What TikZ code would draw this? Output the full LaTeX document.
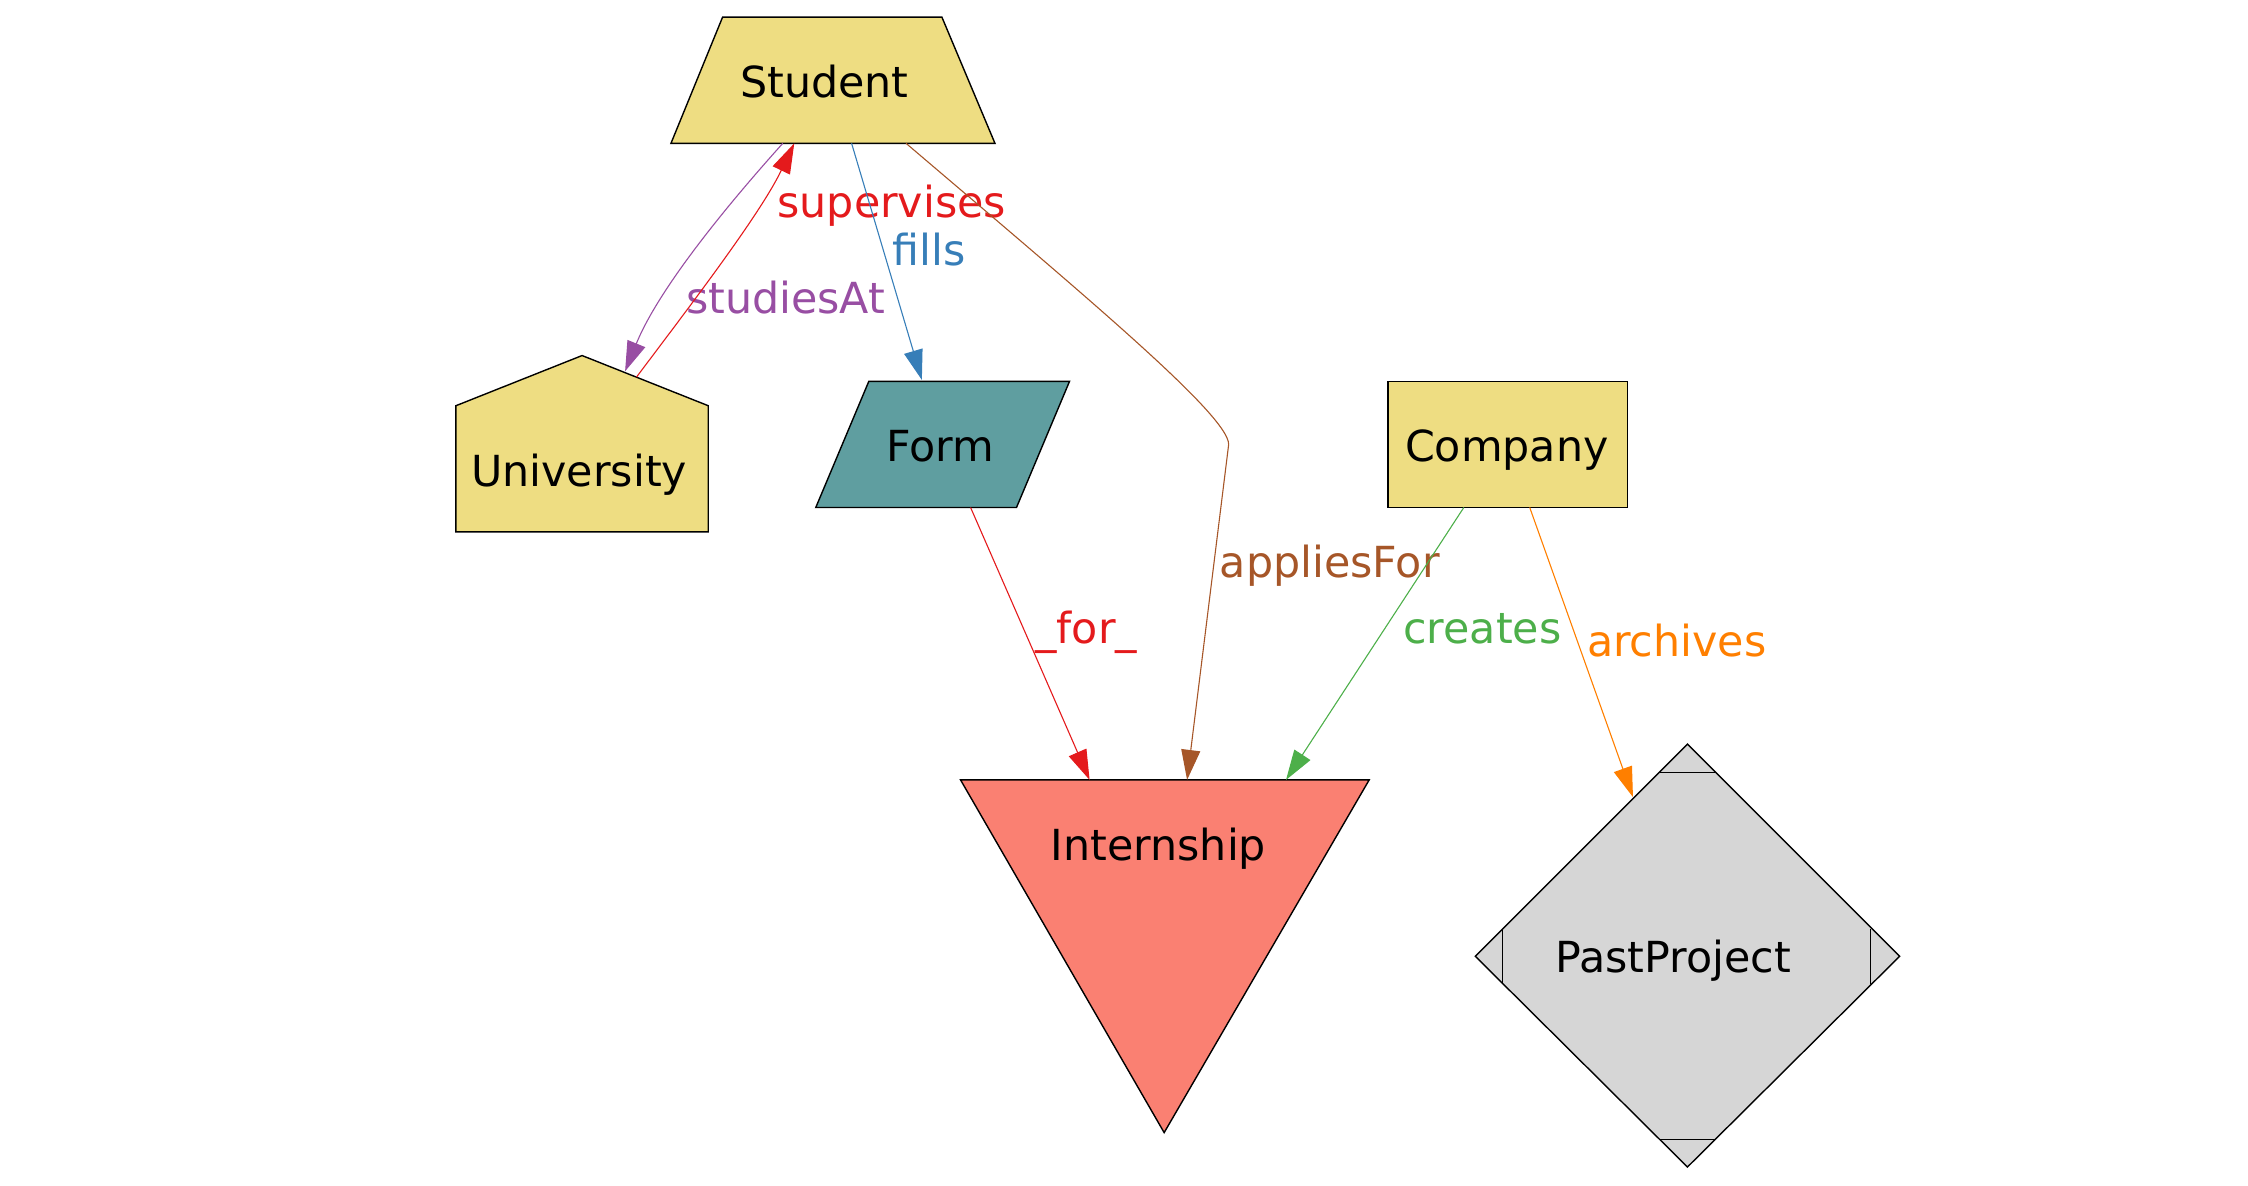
\documentclass[tikz,border=0pt]{standalone}
\usepackage{fontspec}
\setmainfont{DejaVu Sans}
\usetikzlibrary{arrows.meta,calc}
\definecolor{gold}{HTML}{EEDD82}
\definecolor{cadet}{HTML}{5F9EA0}
\definecolor{salmonc}{HTML}{FA8072}
\definecolor{lgray}{HTML}{D6D6D6}
\definecolor{ered}{HTML}{E41A1C}
\definecolor{eblue}{HTML}{377EB8}
\definecolor{egreen}{HTML}{4DAF4A}
\definecolor{epurple}{HTML}{984EA3}
\definecolor{eorange}{HTML}{FF7F00}
\definecolor{ebrown}{HTML}{A65628}
\begin{document}
\begin{tikzpicture}[x=0.71685pt,y=-0.71685pt,
  font=\fontsize{21.4}{25}\selectfont,
  shapebox/.style={draw=black,line width=0.7pt},
  lbl/.style={anchor=base,inner sep=0pt},
  edge/.style={line width=0.55pt,-{Triangle[length=15pt,width=9.5pt]}}]
\useasboundingbox (0,0) rectangle (1568,827);
% shapes
\filldraw[shapebox,fill=gold] (504,12) -- (657,12) -- (694,100) -- (468,100) -- cycle;
\filldraw[shapebox,fill=gold] (406,248) -- (494,283) -- (494,371) -- (318,371) -- (318,283) -- cycle;
\filldraw[shapebox,fill=cadet] (606,266) -- (746,266) -- (709,354) -- (569,354) -- cycle;
\filldraw[shapebox,fill=gold] (968,266) rectangle (1135,354);
\filldraw[shapebox,fill=salmonc] (670,544) -- (955,544) -- (812,790) -- cycle;
\filldraw[shapebox,fill=lgray] (1177,519) -- (1325,667) -- (1177,814) -- (1029,667) -- cycle;
\draw[line width=0.5pt] (1157,539)--(1197,539) (1157,795)--(1197,795) (1048,648)--(1048,686) (1305,648)--(1305,686);
% node texts
\node[lbl] (student) at (575,68) {Student};
\node[lbl] (univ) at (404,339) {University};
\node[lbl] (form) at (656,322) {Form};
\node[lbl] (company) at (1051,322) {Company};
\node[lbl] (intern) at (808,600) {Internship};
\node[lbl] (past) at (1167,678) {PastProject};
% edges
\draw[edge,epurple] ($(student.base)+(-29,32)$) .. controls (510,140) and (460,200) .. ($(univ.base)+(32,-80)$);
\node[lbl,text=epurple] (lstudies) at (548,218.5) {studiesAt};
\draw[edge,ered] ($(univ.base)+(40,-76)$) .. controls (480,215) and (530,150) .. ($(student.base)+(-21,32)$);
\node[lbl,text=ered] (lsuper) at (622,152) {supervises};
\draw[edge,eblue] ($(student.base)+(19,32)$) -- ($(form.base)+(-13,-57)$);
\node[lbl,text=eblue] (lfills) at (648,185) {fills};
\draw[edge,ebrown] ($(student.base)+(57,32)$) .. controls (760,209) and (857,290) .. (857,310) -- ($(intern.base)+(20,-56)$);
\node[lbl,text=ebrown] (lapplies) at (927.5,403) {appliesFor};
\draw[edge,ered] ($(form.base)+(21,32)$) -- ($(intern.base)+(-48,-56)$);
\node[lbl,text=ered] (lfor) at (757.7,449) {\_for\_};
\draw[edge,egreen] ($(company.base)+(-30,32)$) -- ($(intern.base)+(89,-56)$);
\node[lbl,text=egreen] (lcreates) at (1034,449) {creates};
\draw[edge,eorange] ($(company.base)+(16,32)$) -- ($(past.base)+(-28,-122)$);
\node[lbl,text=eorange] (larchives) at (1169.5,458) {archives};
\end{tikzpicture}
\end{document}
